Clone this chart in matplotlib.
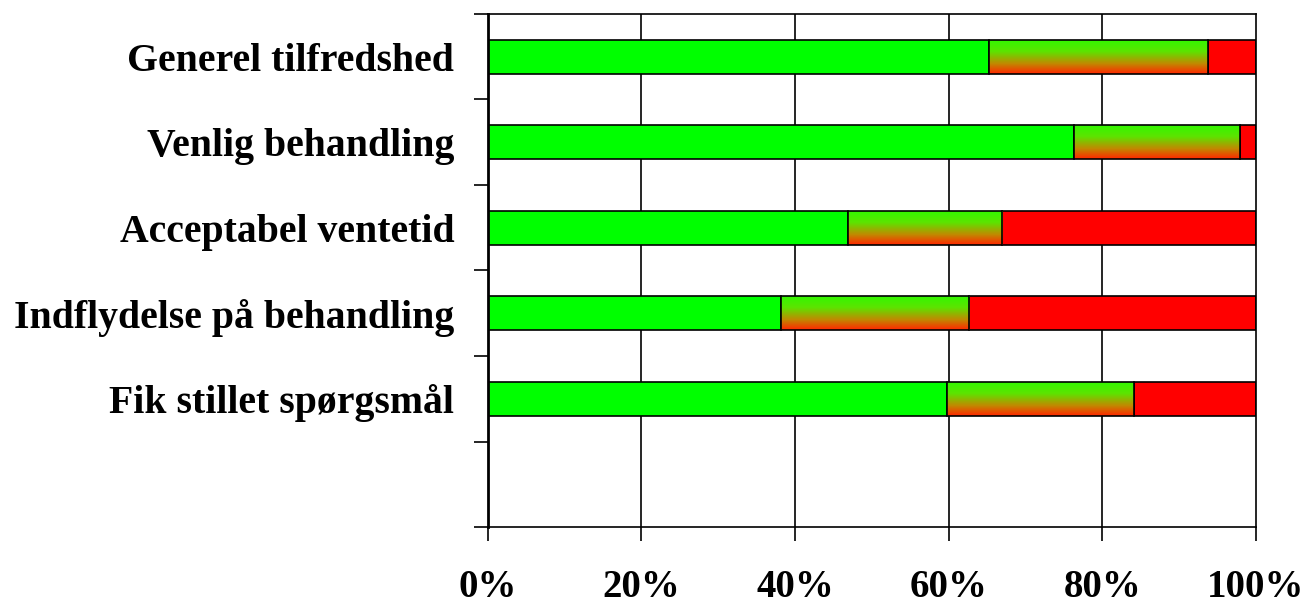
import numpy as np
import matplotlib
matplotlib.use("Agg")
import matplotlib.pyplot as plt
from matplotlib.colors import LinearSegmentedColormap

categories = ["Generel tilfredshed", "Venlig behandling", "Acceptabel ventetid",
              "Indflydelse på behandling", "Fik stillet spørgsmål"]
positive = [65.3, 76.3, 46.9, 38.2, 59.8]
neutral = [28.5, 21.6, 20.1, 24.5, 24.3]
negative = [6.2, 2.1, 33.0, 37.3, 15.9]
xticks = [0, 20, 40, 60, 80, 100]
xticklabels = ["0%", "20%", "40%", "60%", "80%", "100%"]

plt.rcParams['font.family'] = ['Liberation Serif', 'DejaVu Serif']
plt.rcParams['font.weight'] = 'bold'

fig = plt.figure(figsize=(13.06, 6.08), dpi=100)
ax = fig.add_axes([0.3734, 0.1332, 0.9617 - 0.3734, 0.977 - 0.1332])

y = np.arange(len(categories))
h = 0.4

# vertical grid behind the bars
for xv in xticks[1:-1]:
    ax.axvline(xv, color='black', lw=1.2, zorder=0)

ax.barh(y, positive, height=h, color='#00ff00', edgecolor='black', lw=1.2, zorder=2)
mid = ax.barh(y, neutral, left=positive, height=h, color='none',
              edgecolor='black', lw=1.2, zorder=3)
left3 = np.array(positive) + np.array(neutral)
ax.barh(y, negative, left=left3, height=h, color='#ff0000', edgecolor='black', lw=1.2, zorder=2)

# green-to-red gradient fill for the middle segments
cmap = LinearSegmentedColormap.from_list(
    'gr', [(0, '#30f800'), (0.35, '#5ce400'), (0.7, '#c08a00'), (1, '#ff2800')])
grad = np.linspace(0, 1, 64).reshape(-1, 1)
for yi, l, w, p in zip(y, positive, neutral, mid.patches):
    im = ax.imshow(grad, cmap=cmap, aspect='auto', origin='upper',
                   extent=(l, l + w, yi + h / 2, yi - h / 2), zorder=2.5,
                   interpolation='bilinear')
    im.set_clip_path(p)

ax.set_xlim(0, 100)
ax.set_ylim(len(categories) + 0.5, -0.5)

ax.set_xticks(xticks)
ax.set_xticklabels(xticklabels, fontsize=28, fontweight='bold')
ax.tick_params(axis='x', direction='out', length=10, width=1.2, pad=20)

ax.set_yticks(np.arange(-0.5, len(categories) + 1, 1.0))
ax.set_yticklabels([])
ax.set_yticks(y, minor=True)
ax.set_yticklabels(categories, minor=True, fontsize=28.6, fontweight='bold')
ax.tick_params(axis='y', which='major', direction='out', length=10, width=1.2)
ax.tick_params(axis='y', which='minor', length=0, pad=24)

for s in ax.spines.values():
    s.set_linewidth(1.2)
ax.spines['left'].set_linewidth(2)

fig.savefig("out.png", dpi=100)
